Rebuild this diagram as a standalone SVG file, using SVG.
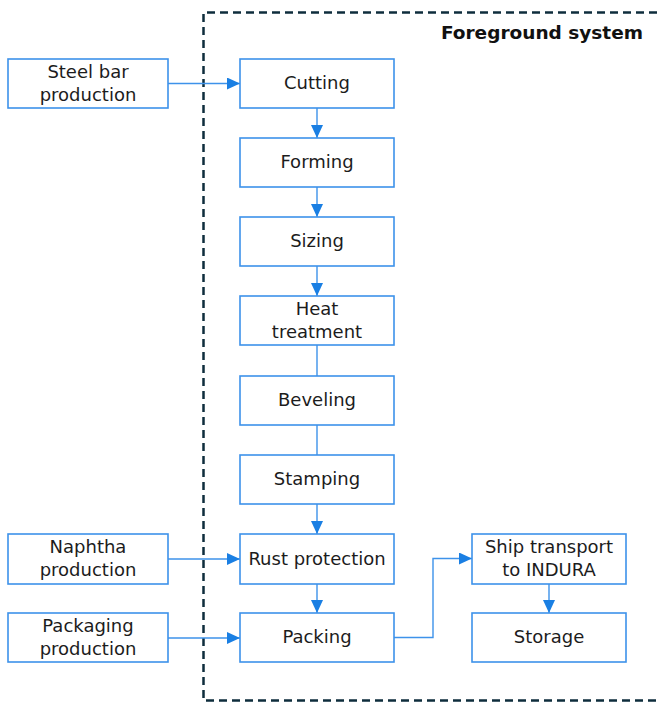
<svg xmlns="http://www.w3.org/2000/svg" width="658" height="704" viewBox="0 0 658 704">
<defs>
<marker id="ah" viewBox="0 0 13 12" refX="13" refY="6" markerWidth="13" markerHeight="12" markerUnits="userSpaceOnUse" orient="auto">
<path d="M0,0 L13,6 L0,12 Z" fill="#1a7fe3"/>
</marker>
<style>
.box{fill:#fff;stroke:#3d92ea;stroke-width:1.6}
.t{font-family:"DejaVu Sans","Liberation Sans",sans-serif;font-size:18px;fill:#1c1c1c;text-anchor:middle}
.c{fill:none;stroke:#3d92ea;stroke-width:1.4}
.a{marker-end:url(#ah)}
</style>
</defs>
<rect width="658" height="704" fill="#fff"/>
<path d="M670 12.5 H203.5 V700.5 H670" fill="none" stroke="#0e2d3c" stroke-width="2.5" stroke-dasharray="8 5"/>
<text x="643" y="39" font-family="DejaVu Sans,Liberation Sans,sans-serif" font-size="18.5" font-weight="bold" fill="#111" text-anchor="end">Foreground system</text>
<g id="connectors">
<path class="c a" d="M168 83.5 H240"/>
<path class="c a" d="M317 108 V138"/>
<path class="c a" d="M317 187 V217"/>
<path class="c a" d="M317 266 V296"/>
<path class="c" d="M317 345 V376"/>
<path class="c" d="M317 425 V455"/>
<path class="c a" d="M317 504 V534"/>
<path class="c a" d="M168 559 H240"/>
<path class="c a" d="M317 584 V613"/>
<path class="c a" d="M168 638 H240"/>
<path class="c a" d="M394 637.5 H433 V558.5 H472"/>
<path class="c a" d="M549 584 V613"/>
</g>
<g id="steel"><rect class="box" x="8" y="59" width="160" height="49"/><text class="t" x="88" y="78">Steel bar</text><text class="t" x="88" y="101">production</text></g>
<g id="cutting"><rect class="box" x="240" y="59" width="154" height="49"/><text class="t" x="317" y="89">Cutting</text></g>
<g id="forming"><rect class="box" x="240" y="138" width="154" height="49"/><text class="t" x="317" y="168">Forming</text></g>
<g id="sizing"><rect class="box" x="240" y="217" width="154" height="49"/><text class="t" x="317" y="247">Sizing</text></g>
<g id="heat"><rect class="box" x="240" y="296" width="154" height="49"/><text class="t" x="317" y="315">Heat</text><text class="t" x="317" y="338">treatment</text></g>
<g id="beveling"><rect class="box" x="240" y="376" width="154" height="49"/><text class="t" x="317" y="406">Beveling</text></g>
<g id="stamping"><rect class="box" x="240" y="455" width="154" height="49"/><text class="t" x="317" y="485">Stamping</text></g>
<g id="rust"><rect class="box" x="240" y="534" width="154" height="50"/><text class="t" x="317" y="565">Rust protection</text></g>
<g id="packing"><rect class="box" x="240" y="613" width="154" height="49"/><text class="t" x="317" y="643">Packing</text></g>
<g id="naphtha"><rect class="box" x="8" y="534" width="160" height="50"/><text class="t" x="88" y="553">Naphtha</text><text class="t" x="88" y="576">production</text></g>
<g id="packaging"><rect class="box" x="8" y="613" width="160" height="49"/><text class="t" x="88" y="632">Packaging</text><text class="t" x="88" y="655">production</text></g>
<g id="ship"><rect class="box" x="472" y="534" width="154" height="50"/><text class="t" x="549" y="553">Ship transport</text><text class="t" x="549" y="576">to INDURA</text></g>
<g id="storage"><rect class="box" x="472" y="613" width="154" height="49"/><text class="t" x="549" y="643">Storage</text></g>
</svg>
